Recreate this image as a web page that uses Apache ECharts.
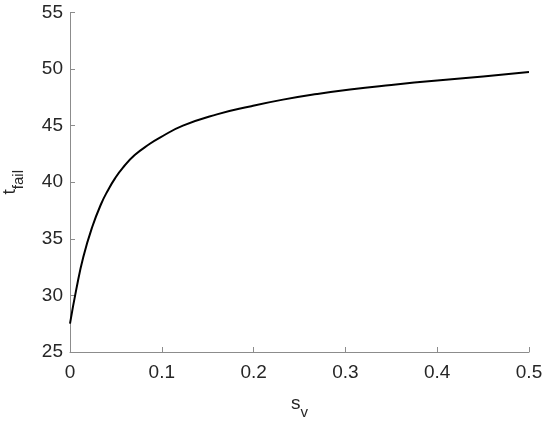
<!DOCTYPE html>
<html>
<head>
<meta charset="utf-8">
<script src="https://cdn.jsdelivr.net/npm/echarts@6/dist/echarts.min.js"></script>
<style>
  html, body { margin: 0; padding: 0; background: #fff; }
  #chart { width: 550px; height: 427px; }
</style>
</head>
<body>
<div id="chart"></div>
<script>
// values
const sv = [0, 0.007, 0.0145, 0.024, 0.034, 0.0414, 0.0487, 0.0577, 0.0705, 0.087, 0.098, 0.123, 0.16, 0.196, 0.232, 0.269, 0.305, 0.35, 0.4, 0.45, 0.5]
const tfail = [27.5, 30.6, 33.4, 36.0, 38.1, 39.3, 40.3, 41.3, 42.4, 43.4, 43.95, 45.0, 46.0, 46.7, 47.3, 47.8, 48.2, 48.6, 49.0, 49.35, 49.75]

const font = 'Liberation Sans, Arial, Helvetica, sans-serif'
const textColor = '#262626'
const axisColor = '#8c8c8c'

const nameRich = {
  a: { fontSize: 19, fontFamily: font, color: textColor, lineHeight: 26, verticalAlign: 'top' },
  b: { fontSize: 15, fontFamily: font, color: textColor, lineHeight: 26, verticalAlign: 'bottom' }
}

const chart = echarts.init(document.getElementById('chart'))
chart.setOption({
  animation: false,
  grid: { left: 70, right: 21, top: 12.5, bottom: 75, outerBoundsMode: 'none', containLabel: false },
  xAxis: {
    type: 'value',
    min: 0,
    max: 0.5,
    interval: 0.1,
    name: '{a|s}{b|v}',
    nameLocation: 'middle',
    nameGap: 42,
    nameTextStyle: { rich: nameRich },
    axisLine: { lineStyle: { color: axisColor, width: 1 } },
    axisTick: { inside: true, length: 5, lineStyle: { color: axisColor } },
    splitLine: { show: false },
    axisLabel: { fontSize: 19, fontFamily: font, color: textColor, margin: 11 }
  },
  yAxis: {
    type: 'value',
    min: 25,
    max: 55,
    interval: 5,
    name: '{a|t}{b|fail}',
    nameLocation: 'middle',
    nameGap: 44,
    nameTextStyle: { rich: nameRich },
    axisLine: { show: true, lineStyle: { color: axisColor, width: 1 } },
    axisTick: { show: true, inside: true, length: 5, lineStyle: { color: axisColor } },
    splitLine: { show: false },
    axisLabel: { fontSize: 19, fontFamily: font, color: textColor, margin: 7 }
  },
  series: [
    {
      type: 'line',
      data: sv.map((s, i) => [s, tfail[i]]),
      smooth: true,
      symbol: 'none',
      lineStyle: { color: '#000', width: 2 }
    }
  ]
})
</script>
</body>
</html>
